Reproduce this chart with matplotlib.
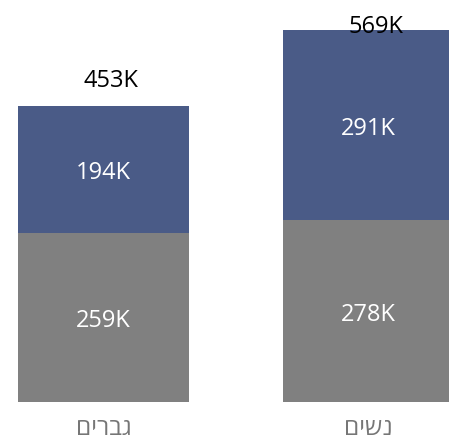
import matplotlib
matplotlib.use("Agg")
import matplotlib.pyplot as plt

# values in thousands
groups = ["גברים", "נשים"]
bottom_vals = [259, 278]
top_vals = [194, 291]
totals = [b + t for b, t in zip(bottom_vals, top_vals)]

GRAY = "#808080"
BLUE = "#4a5b87"
FONT = ["Open Sans", "DejaVu Sans"]
plt.rcParams["font.family"] = FONT

fig = plt.figure(figsize=(4.49, 4.37), dpi=100)
ax = fig.add_axes([0, 35 / 437, 1, 402 / 437])

x = list(range(len(groups)))
w = 0.645
ax.bar(x, bottom_vals, width=w, color=GRAY)
ax.bar(x, top_vals, width=w, bottom=bottom_vals, color=BLUE)

ax.set_xlim(-0.3906, 1.3038)
ax.set_ylim(0, 615)

for i in x:
    ax.text(i, bottom_vals[i] / 2 - 6, f"{bottom_vals[i]}K", ha="center", va="center",
            color="white", fontsize=17)
    ax.text(i, bottom_vals[i] + top_vals[i] / 2 - 6, f"{top_vals[i]}K", ha="center",
            va="center", color="white", fontsize=17)
    ty = min(totals[i] + 38, 574)
    ax.annotate(f"{totals[i]}K", (i, ty), xytext=(5, 0), textcoords="offset points",
                ha="center", va="center", color="black", fontsize=17,
                annotation_clip=False)

# hebrew drawn left-to-right, so reverse for display
ax.set_xticks(x)
ax.set_xticklabels([g[::-1] for g in groups], fontsize=17.5, color="#767676")
ax.tick_params(axis="x", length=0, pad=11)
ax.set_yticks([])
for s in ax.spines.values():
    s.set_visible(False)

fig.savefig("out.png", dpi=100)
